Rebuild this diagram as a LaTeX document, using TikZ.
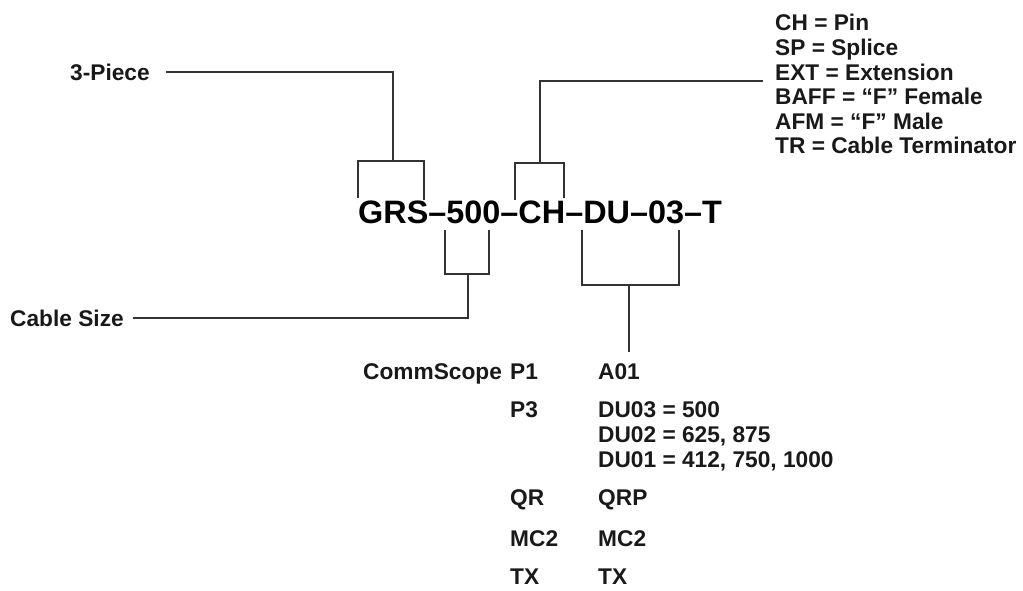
\documentclass[tikz,border=0pt]{standalone}
\usepackage{fontspec}
\setmainfont{Liberation Sans}
\begin{document}
\begin{tikzpicture}[x=1pt,y=-1pt,
  lbl/.style={inner sep=0pt,anchor=base west,font=\fontsize{22.7}{24}\selectfont\bfseries,text=black!90},
  code/.style={inner sep=0pt,anchor=base west,font=\fontsize{32.4}{34}\selectfont\bfseries,text=black},
  wire/.style={draw=black!80,line width=1.6pt}]
\useasboundingbox (0,0) rectangle (1023,590);
% main code
\node[code] (code) at (358,223) {GRS--500--CH--DU--03--T};
% left labels
\node[lbl] (piece) at (70,80) {3-Piece};
\node[lbl] (cable) at (10,326) {Cable Size};
% top right list
\node[lbl] (ch) at (775,30) {CH = Pin};
\node[lbl] (sp) at (775,55) {SP = Splice};
\node[lbl] (ext) at (775,80) {EXT = Extension};
\node[lbl] (baff) at (775,104) {BAFF = “F” Female};
\node[lbl] (afm) at (775,129) {AFM = “F” Male};
\node[lbl] (tr) at (775,153) {TR = Cable Terminator};
% bottom table
\node[lbl] (cs) at (363,379) {CommScope};
\node[lbl] (p1) at (510,379) {P1};
\node[lbl] (a01) at (598,379) {A01};
\node[lbl] (p3) at (510,417) {P3};
\node[lbl] (du3) at (598,417) {DU03 = 500};
\node[lbl] (du2) at (598,442) {DU02 = 625, 875};
\node[lbl] (du1) at (598,467) {DU01 = 412, 750, 1000};
\node[lbl] (qr) at (510,505) {QR};
\node[lbl] (qrp) at (598,505) {QRP};
\node[lbl] (mc2a) at (510,546) {MC2};
\node[lbl] (mc2b) at (598,546) {MC2};
\node[lbl] (txa) at (510,584) {TX};
\node[lbl] (txb) at (598,584) {TX};
% bracket over GRS
\coordinate (g1) at (358,198);
\coordinate (g2) at (424,200);
\coordinate (gs) at (393,161);
\coordinate (gp) at (166,72);
\draw[wire] (g1) |- (gs) -| (g2);
\draw[wire] (gs) |- (gp);
% bracket over CH
\coordinate (c1) at (515,200);
\coordinate (c2) at (564,198);
\coordinate (cs2) at (540,163);
\coordinate (cp) at (763,81);
\draw[wire] (c1) |- (cs2) -| (c2);
\draw[wire] (cs2) |- (cp);
% bracket under 500
\coordinate (f1) at (445,230);
\coordinate (f2) at (489,230);
\coordinate (fs) at (468,274);
\coordinate (fp) at (133,318);
\draw[wire] (f1) |- (fs) -| (f2);
\draw[wire] (fs) |- (fp);
% bracket under DU-03
\coordinate (d1) at (582,230);
\coordinate (d2) at (679,230);
\coordinate (ds) at (629,285);
\coordinate (dp) at (629,352);
\draw[wire] (d1) |- (ds) -| (d2);
\draw[wire] (ds) -- (dp);
\end{tikzpicture}
\end{document}
